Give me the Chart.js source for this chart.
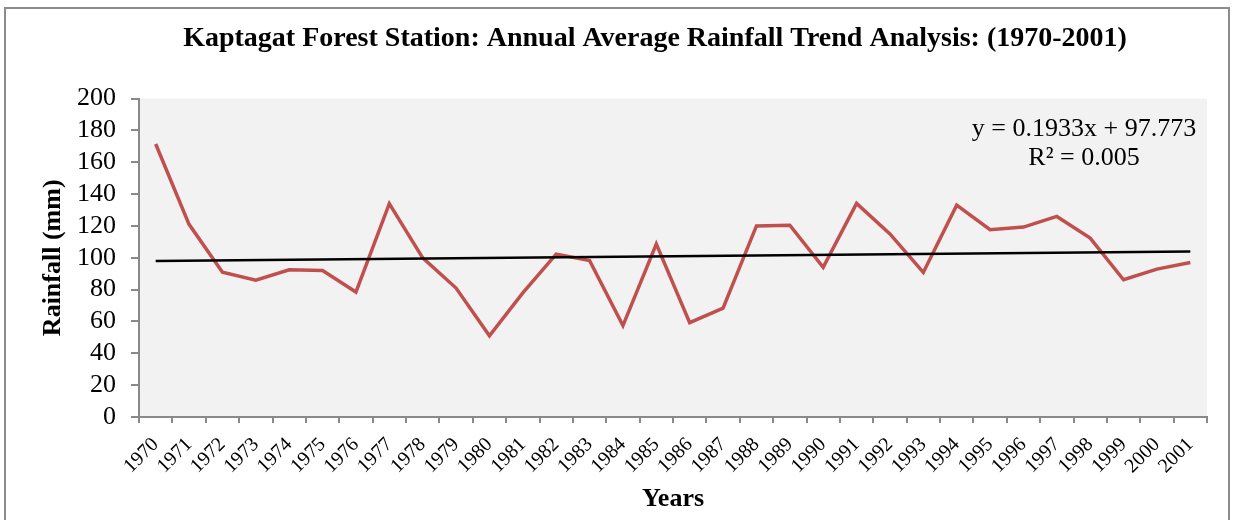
<!DOCTYPE html>
<html>
<head>
<meta charset="utf-8">
<script src="https://cdn.jsdelivr.net/npm/chart.js@4"></script>
<style>
html,body{margin:0;padding:0;background:#fff;}
#wrap{width:1239px;height:520px;position:relative;}
</style>
</head>
<body>
<div id="wrap"><canvas id="c" width="1239" height="520"></canvas></div>
<script>
const years = ['1970','1971','1972','1973','1974','1975','1976','1977','1978','1979','1980','1981','1982','1983','1984','1985','1986','1987','1988','1989','1990','1991','1992','1993','1994','1995','1996','1997','1998','1999','2000','2001'];
const rainfall = [171.5,121,91,86,92.5,92,78.5,134,100,81,51,78,102.3,98.3,57.4,108.6,59.3,68.4,120,120.5,94,134.2,115,90.8,133.1,117.6,119.3,126,112.4,86.2,92.9,97];
const trendStart = 97.97;
const trendEnd = 103.96;
const yTicks = [0,20,40,60,80,100,120,140,160,180,200];
const titleText = 'Kaptagat Forest Station: Annual Average Rainfall Trend Analysis: (1970-2001)';
const eqLines = ['y = 0.1933x + 97.773', 'R\u00B2 = 0.005'];

const trendData = years.map((_, i) => i === 0 ? trendStart : (i === years.length - 1 ? trendEnd : null));
const SERIF = "'Liberation Serif', 'Times New Roman', serif";
const AXIS = '#898989';

const bgPlugin = {
  id: 'bg',
  afterLayout(chart) {
    if (chart.titleBlock) {
      chart.titleBlock.left = 103;
      chart.titleBlock.right = 1207;
    }
  },
  beforeDraw(chart) {
    const {ctx, chartArea: a} = chart;
    ctx.save();
    ctx.fillStyle = '#ffffff';
    ctx.fillRect(0, 0, chart.width, chart.height);
    ctx.fillStyle = '#f2f2f2';
    ctx.fillRect(a.left, a.top, a.right - a.left, a.bottom - a.top);
    ctx.restore();
  },
  afterDraw(chart) {
    const {ctx} = chart;
    ctx.save();
    ctx.strokeStyle = '#8c8c8c';
    ctx.lineWidth = 2;
    ctx.beginPath();
    ctx.moveTo(5, 530);
    ctx.lineTo(5, 8);
    ctx.lineTo(1229, 8);
    ctx.lineTo(1229, 530);
    ctx.stroke();
    ctx.fillStyle = '#000';
    ctx.font = '26px ' + SERIF;
    ctx.textAlign = 'center';
    ctx.textBaseline = 'middle';
    ctx.fillText(eqLines[0], 1084, 129);
    ctx.fillText(eqLines[1], 1084, 158);
    ctx.restore();
  }
};

new Chart(document.getElementById('c'), {
  type: 'line',
  data: {
    labels: years,
    datasets: [
      {
        label: 'Rainfall',
        data: rainfall,
        borderColor: '#c0504d',
        borderWidth: 3.5,
        pointRadius: 0,
        tension: 0,
        fill: false,
        order: 2
      },
      {
        label: 'Linear trend',
        data: trendData,
        borderColor: '#000000',
        borderWidth: 2.5,
        pointRadius: 0,
        spanGaps: true,
        tension: 0,
        fill: false,
        order: 1
      }
    ]
  },
  options: {
    responsive: false,
    animation: false,
    devicePixelRatio: 1,
    layout: {padding: {left: 0, right: 32, top: 0, bottom: 0}},
    plugins: {
      legend: {display: false},
      tooltip: {enabled: false},
      title: {
        display: true,
        text: titleText,
        color: '#000',
        font: {family: SERIF, size: 28, weight: 'bold'},
        padding: {top: 22, bottom: 43}
      }
    },
    scales: {
      x: {
        type: 'category',
        offset: true,
        afterFit(s) { s.height = 103; },
        grid: {display: true, drawOnChartArea: false, drawTicks: true, tickLength: 6, color: AXIS, lineWidth: 2, offset: true},
        border: {display: true, color: AXIS, width: 2},
        ticks: {
          color: '#000',
          font: {family: SERIF, size: 20},
          minRotation: 45,
          maxRotation: 45,
          autoSkip: false,
          padding: 10
        },
        title: {
          display: true,
          text: 'Years',
          color: '#000',
          font: {family: SERIF, size: 26, weight: 'bold'},
          padding: {top: 0, bottom: 5}
        }
      },
      y: {
        min: 0,
        max: 200,
        afterFit(s) { s.width = 139; },
        afterBuildTicks(s) { s.ticks = yTicks.map(v => ({value: v})); },
        grid: {display: true, drawOnChartArea: false, drawTicks: true, tickLength: 8, color: AXIS, lineWidth: 2},
        border: {display: true, color: AXIS, width: 2},
        ticks: {
          color: '#000',
          font: {family: SERIF, size: 26},
          padding: 15,
          autoSkip: false
        },
        title: {
          display: true,
          text: 'Rainfall (mm)',
          color: '#000',
          font: {family: SERIF, size: 26, weight: 'bold'},
          padding: {top: 38, bottom: 0}
        }
      }
    }
  },
  plugins: [bgPlugin]
});
</script>
</body>
</html>
